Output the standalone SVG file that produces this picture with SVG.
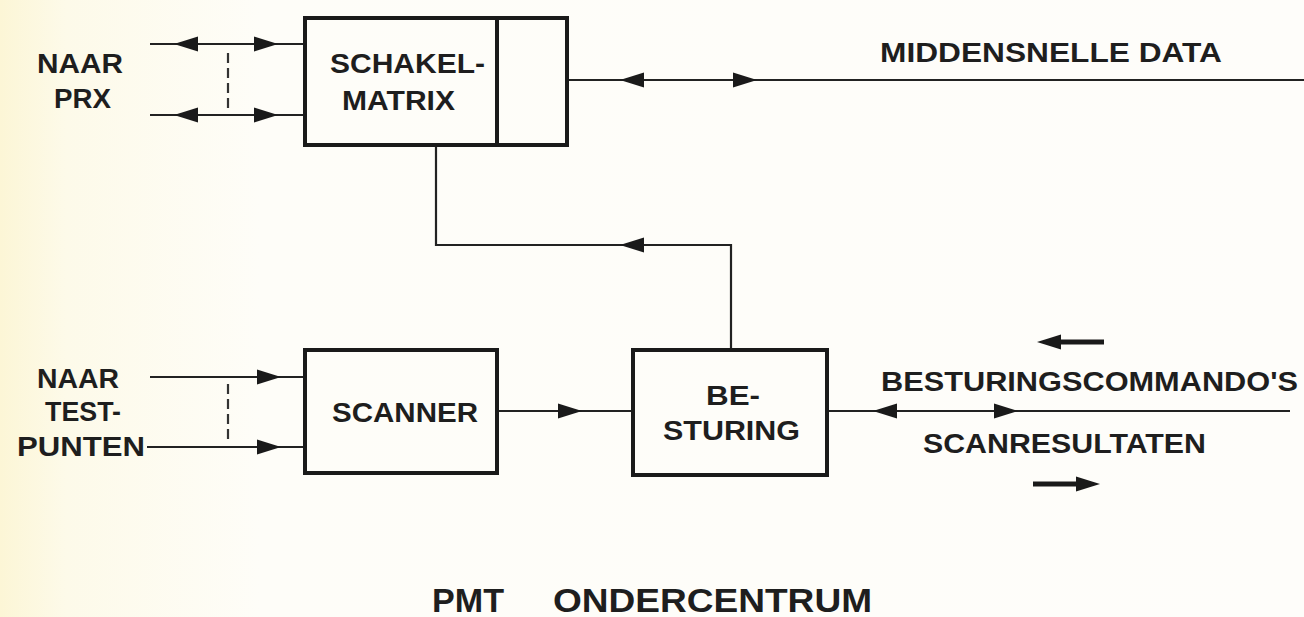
<svg xmlns="http://www.w3.org/2000/svg" xmlns:xlink="http://www.w3.org/1999/xlink" width="1304" height="617" viewBox="0 0 1304 617">
<defs>
<linearGradient id="bg" x1="0" y1="0" x2="1" y2="0">
<stop offset="0" stop-color="#fcf6d6"/>
<stop offset="0.05" stop-color="#fdfae9"/>
<stop offset="0.2" stop-color="#fefdf8"/>
<stop offset="1" stop-color="#fefdfa"/>
</linearGradient>
<path id="ah" d="M0,0 L-24,-7.5 L-24,7.5 Z" fill="#1a1a1a"/>
</defs>
<style>
.box{fill:none;stroke:#1a1a1a;stroke-width:4}
.ln{fill:none;stroke:#222;stroke-width:2.2}
.dash{fill:none;stroke:#333;stroke-width:2.2;stroke-dasharray:10,5}
text{font-family:"Liberation Sans","DejaVu Sans",sans-serif;font-weight:bold;font-size:27px;fill:#1e1e1e}
.title{font-size:34px}
</style>
<rect x="0" y="0" width="1304" height="617" fill="url(#bg)"/>

<g id="connectors">
<line class="ln" x1="150" y1="44" x2="305" y2="44"/>
<use xlink:href="#ah" transform="translate(174,44) rotate(180)"/>
<use xlink:href="#ah" transform="translate(278,44)"/>
<line class="ln" x1="150" y1="115" x2="305" y2="115"/>
<use xlink:href="#ah" transform="translate(174,115) rotate(180)"/>
<use xlink:href="#ah" transform="translate(278,115)"/>
<line class="dash" x1="228" y1="53" x2="228" y2="108"/>
<line class="ln" x1="567" y1="80" x2="1304" y2="80"/>
<use xlink:href="#ah" transform="translate(620,80) rotate(180)"/>
<use xlink:href="#ah" transform="translate(757,80)"/>
<polyline class="ln" points="436,145 436,245 731,245 731,350"/>
<use xlink:href="#ah" transform="translate(620,245) rotate(180)"/>
<line class="ln" x1="150" y1="377" x2="305" y2="377"/>
<use xlink:href="#ah" transform="translate(281,377)"/>
<line class="ln" x1="147" y1="447" x2="305" y2="447"/>
<use xlink:href="#ah" transform="translate(281,447)"/>
<line class="dash" x1="228" y1="384" x2="228" y2="440"/>
<line class="ln" x1="497" y1="411" x2="633" y2="411"/>
<use xlink:href="#ah" transform="translate(582,411)"/>
<line class="ln" x1="827" y1="411" x2="1290" y2="411"/>
<use xlink:href="#ah" transform="translate(873,411) rotate(180)"/>
<use xlink:href="#ah" transform="translate(1018,411)"/>
<line x1="1060" y1="342" x2="1104" y2="342" stroke="#1a1a1a" stroke-width="5"/>
<use xlink:href="#ah" transform="translate(1037,342) rotate(180)"/>
<line x1="1033" y1="484" x2="1078" y2="484" stroke="#1a1a1a" stroke-width="5"/>
<use xlink:href="#ah" transform="translate(1100,484)"/>
</g>

<g id="schakelmatrix">
<rect class="box" x="305" y="18" width="262" height="127"/>
<line class="box" x1="497" y1="18" x2="497" y2="145"/>
<text x="330" y="73" textLength="155" lengthAdjust="spacingAndGlyphs">SCHAKEL-</text>
<text x="342" y="110" textLength="113" lengthAdjust="spacingAndGlyphs">MATRIX</text>
</g>

<g id="scanner">
<rect class="box" x="305" y="350" width="192" height="123"/>
<text x="332" y="422" textLength="146" lengthAdjust="spacingAndGlyphs">SCANNER</text>
</g>

<g id="besturing">
<rect class="box" x="633" y="350" width="194" height="125"/>
<text x="706" y="405" textLength="54" lengthAdjust="spacingAndGlyphs">BE-</text>
<text x="663" y="440" textLength="137" lengthAdjust="spacingAndGlyphs">STURING</text>
</g>

<g id="labels">
<text x="37" y="73" textLength="86" lengthAdjust="spacingAndGlyphs">NAAR</text>
<text x="54" y="108" textLength="57" lengthAdjust="spacingAndGlyphs">PRX</text>
<text x="880" y="62" textLength="342" lengthAdjust="spacingAndGlyphs">MIDDENSNELLE DATA</text>
<text x="37" y="388" textLength="82" lengthAdjust="spacingAndGlyphs">NAAR</text>
<text x="45" y="421" textLength="76" lengthAdjust="spacingAndGlyphs">TEST-</text>
<text x="17" y="456" textLength="128" lengthAdjust="spacingAndGlyphs">PUNTEN</text>
<text x="881" y="391" textLength="417" lengthAdjust="spacingAndGlyphs">BESTURINGSCOMMANDO'S</text>
<text x="923" y="453" textLength="283" lengthAdjust="spacingAndGlyphs">SCANRESULTATEN</text>
<text class="title" x="432" y="612" textLength="72" lengthAdjust="spacingAndGlyphs">PMT</text>
<text class="title" x="553" y="612" textLength="319" lengthAdjust="spacingAndGlyphs">ONDERCENTRUM</text>
</g>
</svg>
